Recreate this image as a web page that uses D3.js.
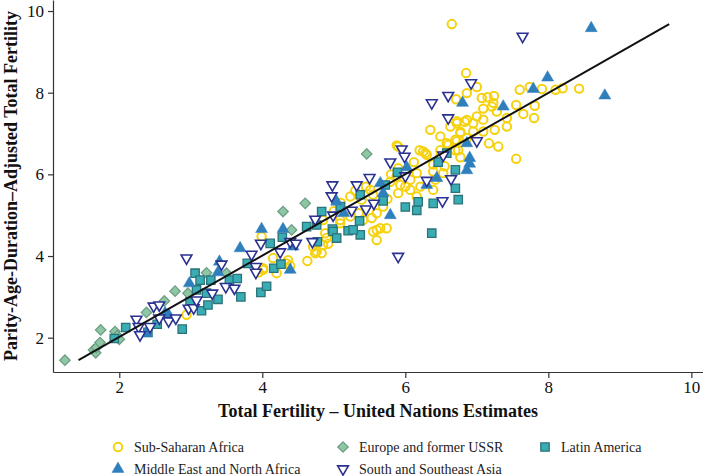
<!DOCTYPE html>
<html>
<head>
<meta charset="utf-8">
<script src="https://cdn.jsdelivr.net/npm/d3@7"></script>
<style>
  body { margin: 0; background: #fff; }
  svg { font-family: "Liberation Serif", "DejaVu Serif", serif; }
</style>
</head>
<body>
<div id="chart"></div>
<script>
// Datos: [estimacion ONU, TF ajustada]
const ssa = [[2.94,2.56],[3.95,3.6],[4.01,3.66],[4.2,3.58],[4.34,3.82],[4.36,3.9],[4.63,3.88],[4.74,4.07],[4.83,4.07],[4.85,4.27],[4.71,4.23],[4.9,4.44],[4.88,4.56],[4.92,4.3],[3.99,4.48],[4.15,3.95],[4.39,3.76],[4.76,4.11],[4.85,4.88],[4.01,3.7],[5.09,4.8],[5.09,4.88],[5.23,4.97],[5.0,5.1],[5.1,5.3],[5.55,4.6],[5.65,4.68],[5.74,4.68],[5.6,4.39],[5.6,4.64],[5.53,4.93],[5.6,5.05],[5.69,5.21],[5.41,4.88],[5.45,5.7],[5.3,5.6],[5.9,6.15],[5.55,5.5],[5.23,5.46],[5.39,5.38],[5.51,5.62],[5.79,5.82],[5.88,5.95],[5.93,5.74],[5.9,5.54],[6.07,5.62],[6.21,5.7],[6.39,5.62],[6.07,5.87],[6.16,5.46],[6.39,6.07],[6.25,6.56],[6.3,6.48],[5.88,6.71],[6.16,6.03],[6.42,5.87],[6.53,6.03],[6.39,6.24],[6.49,6.44],[6.77,6.42],[6.2,6.59],[6.28,6.52],[5.9,6.68],[6.74,6.59],[6.49,6.59],[6.58,6.76],[6.7,6.59],[6.77,7.01],[6.72,6.81],[6.86,6.89],[6.6,6.72],[6.7,6.85],[6.35,7.09],[6.49,6.93],[6.63,7.17],[6.72,7.25],[6.77,7.04],[6.83,7.29],[6.95,7.25],[6.86,7.33],[6.72,7.3],[6.95,7.05],[7.0,7.42],[7.09,7.34],[7.09,7.05],[7.25,7.09],[7.42,7.17],[7.17,6.76],[7.3,6.68],[7.55,6.38],[6.65,9.68],[6.85,8.48],[7.0,8.14],[6.71,7.84],[6.86,7.99],[7.07,7.87],[7.15,7.89],[7.24,7.92],[7.09,7.61],[7.21,7.66],[7.28,7.54],[7.55,7.7],[7.65,7.48],[7.8,7.38],[7.81,7.68],[7.6,8.07],[7.74,8.14],[7.91,8.09],[8.1,8.07],[8.2,8.11],[8.43,8.1],[7.42,7.38],[7.23,7.75],[5.75,5.4],[6.0,5.7],[6.12,6.3],[6.55,6.2],[5.35,5.05],[5.8,6.0]];

const mena = [[2.38,2.11],[2.64,2.6],[2.69,2.56],[2.98,3.33],[3.38,3.6],[3.4,3.86],[3.69,4.19],[3.99,4.66],[4.39,3.66],[4.29,4.66],[4.43,4.23],[5.04,5.33],[5.14,5.05],[5.65,5.78],[5.69,5.54],[5.79,5.0],[6.02,6.17],[6.3,5.74],[6.44,5.91],[6.86,6.76],[6.9,6.4],[6.9,6.26],[6.86,6.1],[6.8,7.75],[7.37,7.66],[7.79,8.09],[7.99,8.37],[8.6,9.58],[8.79,7.93]];

const eur = [[1.24,1.45],[1.64,1.7],[1.67,1.63],[1.68,1.76],[1.73,1.88],[1.74,2.19],[1.94,2.15],[1.97,2.05],[2.0,1.96],[2.38,2.62],[2.63,2.9],[2.78,3.14],[2.96,3.09],[3.22,3.59],[3.5,3.58],[4.29,5.09],[4.6,5.29],[4.41,4.64],[5.46,6.5]];

const lat = [[1.93,1.98],[2.09,2.25],[2.4,2.13],[2.53,2.33],[2.88,2.21],[2.99,2.88],[3.06,3.58],[3.13,3.41],[3.15,2.66],[3.24,2.8],[3.22,3.09],[3.28,3.41],[3.38,2.94],[3.08,3.17],[3.54,3.41],[3.65,3.45],[3.7,3.0],[3.79,3.82],[3.98,3.11],[4.06,3.26],[4.16,3.7],[4.26,3.8],[4.11,4.31],[4.28,4.46],[4.62,4.72],[4.76,4.76],[4.83,5.09],[4.98,4.66],[4.77,4.35],[4.99,4.6],[5.04,4.44],[5.2,4.62],[5.37,4.52],[5.36,4.86],[5.27,4.64],[5.37,5.5],[5.09,5.21],[5.69,5.35],[5.72,5.74],[5.89,6.05],[6.0,5.2],[6.16,5.12],[6.18,5.33],[6.39,5.29],[6.37,4.56],[6.46,6.3],[6.58,6.52],[6.7,6.11],[6.7,5.66],[6.74,5.38]];

const sea = [[2.24,2.45],[2.27,2.27],[2.29,2.07],[2.43,2.27],[2.48,2.77],[2.56,2.8],[2.56,2.48],[2.69,2.41],[2.79,2.48],[2.94,3.95],[2.97,2.72],[3.04,2.73],[3.08,2.92],[3.3,3.09],[3.43,3.8],[3.49,3.25],[3.61,3.21],[3.85,4.04],[3.91,3.74],[3.91,3.6],[3.98,4.31],[4.25,4.1],[4.39,4.35],[4.47,4.31],[4.7,4.35],[4.74,4.9],[4.98,5.74],[4.97,5.47],[4.99,5.0],[5.25,5.12],[5.32,5.74],[5.45,5.15],[5.5,5.92],[5.56,5.29],[5.79,6.3],[5.95,6.62],[5.99,6.44],[6.0,5.96],[6.3,5.85],[6.37,7.75],[6.52,5.35],[6.6,7.38],[6.64,5.89],[6.6,7.93],[6.92,8.24],[7.0,6.82],[7.64,9.38],[6.53,6.47],[5.9,3.99]];

// Recta ajustada
const fitLine = [[1.43,1.45],[9.69,9.68]];

const xTicks = [2, 4, 6, 8, 10];
const yTicks = [2, 4, 6, 8, 10];

const width = 703;
const height = 476;

const svg = d3.select('#chart')
  .append('svg')
  .attr('width', width)
  .attr('height', height);

const x = d3.scaleLinear().domain([1.073, 10.163]).range([53, 703]);
const y = d3.scaleLinear().domain([1.16, 10.27]).range([372, 0]);

// Series (orden de dibujo y estilos)
const series = [
  { name: 'Sub-Saharan Africa', data: ssa, type: d3.symbolCircle, size: 56, rot: 0,
    fill: 'none', stroke: '#f6d10e', sw: 2 },
  { name: 'Europe and former USSR', data: eur, type: d3.symbolSquare, size: 54, rot: 45,
    fill: '#8fc6a3', stroke: '#6c9f84', sw: 1.3 },
  { name: 'Latin America', data: lat, type: d3.symbolSquare, size: 70, rot: 0,
    fill: '#3aadb4', stroke: '#2a7378', sw: 1.3 },
  { name: 'Middle East and North Africa', data: mena, type: d3.symbolTriangle, size: 62, rot: 0,
    fill: '#2f7fbd', stroke: '#2f7fbd', sw: 0.5 },
  { name: 'South and Southeast Asia', data: sea, type: d3.symbolTriangle, size: 50, rot: 180,
    fill: 'white', stroke: '#2a3190', sw: 1.6 }
];

const gPoints = svg.append('g').attr('class', 'points');

series.forEach((s) => {
  const path = d3.symbol().type(s.type).size(s.size)();
  gPoints.append('g')
    .selectAll('path')
    .data(s.data)
    .enter()
    .append('path')
    .attr('d', path)
    .attr('transform', (d) => `translate(${x(d[0])},${y(d[1])}) rotate(${s.rot})`)
    .attr('fill', s.fill)
    .attr('stroke', s.stroke)
    .attr('stroke-width', s.sw);
});

// Linea
svg.append('path')
  .datum(fitLine)
  .attr('d', d3.line().x((d) => x(d[0])).y((d) => y(d[1])))
  .attr('fill', 'none')
  .attr('stroke', '#111')
  .attr('stroke-width', 2);

// Ejes
const xAxis = svg.append('g')
  .attr('transform', 'translate(0,372)')
  .call(d3.axisBottom(x).tickValues(xTicks).tickSize(6).tickPadding(3).tickSizeOuter(0));

const yAxis = svg.append('g')
  .attr('transform', 'translate(53,0)')
  .call(d3.axisLeft(y).tickValues(yTicks).tickSize(5).tickPadding(4).tickSizeOuter(0));

[xAxis, yAxis].forEach((a) => {
  a.select('.domain').attr('stroke', '#333').attr('stroke-width', 1.2);
  a.selectAll('.tick line').attr('stroke', '#333').attr('stroke-width', 1.2);
  a.selectAll('.tick text')
    .attr('fill', '#111')
    .style('font-family', '"Liberation Serif", serif')
    .style('font-size', '17px');
});

// Titulos
svg.append('text')
  .attr('x', 378)
  .attr('y', 417)
  .attr('text-anchor', 'middle')
  .attr('font-weight', 'bold')
  .attr('font-size', 18)
  .attr('fill', '#111')
  .text('Total Fertility – United Nations Estimates');

svg.append('text')
  .attr('transform', 'translate(17,186) rotate(-90)')
  .attr('text-anchor', 'middle')
  .attr('font-weight', 'bold')
  .attr('font-size', 18)
  .attr('fill', '#111')
  .text('Parity-Age-Duration–Adjusted Total Fertility');

// Leyenda
const legendPos = [[118, 447], [343, 447], [545, 447], [118, 469], [343, 469]];
const legendOrder = [0, 1, 2, 3, 4];

const legend = svg.append('g').attr('class', 'legend');
legendOrder.forEach((idx, i) => {
  const s = series[idx];
  const pos = legendPos[i];
  const g = legend.append('g').attr('transform', `translate(${pos[0]},${pos[1]})`);
  g.append('path')
    .attr('d', d3.symbol().type(s.type).size(s.size)())
    .attr('transform', `rotate(${s.rot})`)
    .attr('fill', s.fill)
    .attr('stroke', s.stroke)
    .attr('stroke-width', s.sw);
  g.append('text')
    .attr('x', 16)
    .attr('y', 5)
    .attr('font-size', 14)
    .attr('fill', '#222')
    .text(s.name);
});
</script>
</body>
</html>
